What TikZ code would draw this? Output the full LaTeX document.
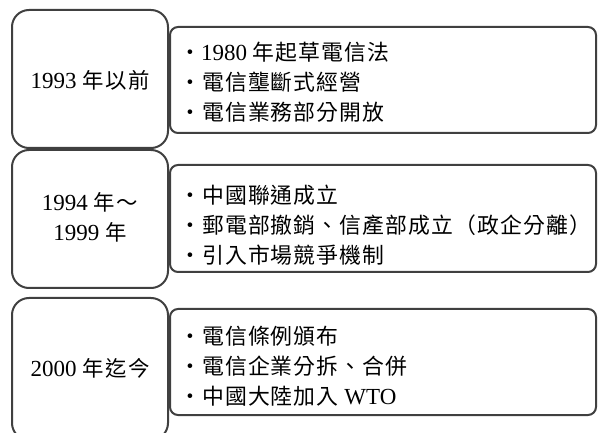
\documentclass[tikz,border=0pt]{standalone}
\usepackage{fontspec}
\setmainfont{Liberation Serif}
\newfontfamily\cjk[Scale=0.93,LetterSpace=7]{Noto Sans CJK TC}
\newfontfamily\cjkw[Scale=0.95,LetterSpace=5]{Noto Sans CJK TC}
\definecolor{edge}{HTML}{404040}
\begin{document}
\begin{tikzpicture}[x=1pt,y=-1pt,
  periodbox/.style={draw=edge,line width=2pt,fill=white,rounded corners=17pt},
  itembox/.style={draw=edge,line width=2pt,fill=white,rounded corners=8pt},
  txt/.style={inner sep=0pt,font=\fontsize{23}{30}\selectfont},
]
\useasboundingbox (0,0) rectangle (598,433);
% right boxes
\draw[itembox] (170,27) rectangle (596,133);
\draw[itembox] (170,165) rectangle (596,272);
\draw[itembox] (170,309) rectangle (596,415);
% left boxes
\draw[periodbox] (12,10) rectangle (168,148);
\draw[periodbox] (12,150) rectangle (168,288);
\draw[periodbox] (12,298) rectangle (168,440);
% labels
\node[txt,align=center] (p1) at (90,80) {1993 {\cjk 年以前}};
\node[txt,align=center] (p2) at (90,217) {1994 {\cjk 年～}\\1999 {\cjk 年}};
\node[txt,align=center] (p3) at (90,368) {2000 {\cjk 年迄今}};
\node[txt,align=left,anchor=west] (i1) at (179,82) {{\cjkw ・}1980 {\cjkw 年起草電信法}\\{\cjkw ・電信壟斷式經營}\\{\cjkw ・電信業務部分開放}};
\node[txt,align=left,anchor=west] (i2) at (179,225) {{\cjkw ・中國聯通成立}\\{\cjkw ・郵電部撤銷、信產部成立（政企分離）}\\{\cjkw ・引入市場競爭機制}};
\node[txt,align=left,anchor=west] (i3) at (179,366) {{\cjkw ・電信條例頒布}\\{\cjkw ・電信企業分拆、合併}\\{\cjkw ・中國大陸加入} WTO};
\end{tikzpicture}
\end{document}
